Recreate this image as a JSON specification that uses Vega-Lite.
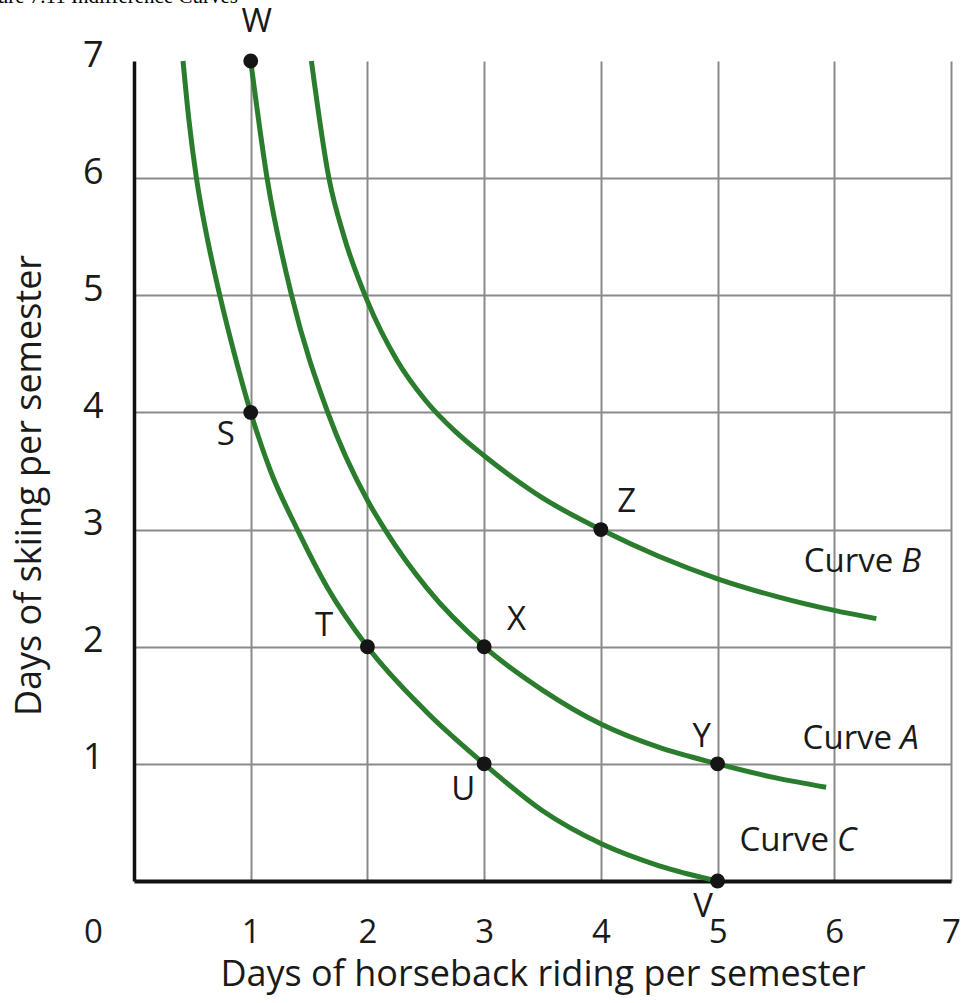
{
  "$schema": "https://vega.github.io/schema/vega-lite/v6.json",
  "width": 817,
  "height": 820,
  "autosize": {"type": "none"},
  "padding": {"left": 134, "top": 61, "right": 13, "bottom": 122},
  "background": "white",
  "title": {
    "text": "Figure 7.11 Indifference Curves",
    "anchor": "start",
    "frame": "group",
    "align": "right",
    "dx": 104,
    "dy": 18,
    "baseline": "alphabetic",
    "font": "Liberation Serif",
    "fontSize": 21,
    "fontWeight": "normal",
    "color": "#000000",
    "offset": 0
  },
  "config": {
    "view": {"stroke": null},
    "font": "Open Sans"
  },
  "datasets": {
    "curves": [
      {"curve": "C", "x": 0.42, "y": 7.0},
      {"curve": "C", "x": 0.47, "y": 6.5},
      {"curve": "C", "x": 0.535, "y": 6.0},
      {"curve": "C", "x": 0.625, "y": 5.5},
      {"curve": "C", "x": 0.735, "y": 5.0},
      {"curve": "C", "x": 0.86, "y": 4.5},
      {"curve": "C", "x": 1.0, "y": 4.0},
      {"curve": "C", "x": 1.17, "y": 3.5},
      {"curve": "C", "x": 1.4, "y": 3.0},
      {"curve": "C", "x": 1.66, "y": 2.5},
      {"curve": "C", "x": 2.0, "y": 2.0},
      {"curve": "C", "x": 2.5, "y": 1.45},
      {"curve": "C", "x": 3.0, "y": 1.0},
      {"curve": "C", "x": 3.5, "y": 0.6},
      {"curve": "C", "x": 4.0, "y": 0.32},
      {"curve": "C", "x": 4.5, "y": 0.13},
      {"curve": "C", "x": 5.0, "y": 0.0},
      {"curve": "A", "x": 1.0, "y": 7.0},
      {"curve": "A", "x": 1.14, "y": 6.0},
      {"curve": "A", "x": 1.35, "y": 5.0},
      {"curve": "A", "x": 1.66, "y": 4.0},
      {"curve": "A", "x": 2.0, "y": 3.25},
      {"curve": "A", "x": 2.15, "y": 3.0},
      {"curve": "A", "x": 2.51, "y": 2.5},
      {"curve": "A", "x": 3.0, "y": 2.0},
      {"curve": "A", "x": 3.5, "y": 1.63},
      {"curve": "A", "x": 4.0, "y": 1.34},
      {"curve": "A", "x": 4.5, "y": 1.14},
      {"curve": "A", "x": 5.0, "y": 1.0},
      {"curve": "A", "x": 5.5, "y": 0.88},
      {"curve": "A", "x": 5.93, "y": 0.8},
      {"curve": "B", "x": 1.52, "y": 7.0},
      {"curve": "B", "x": 1.67, "y": 6.0},
      {"curve": "B", "x": 1.8, "y": 5.5},
      {"curve": "B", "x": 2.0, "y": 4.95},
      {"curve": "B", "x": 2.25, "y": 4.45},
      {"curve": "B", "x": 2.5, "y": 4.1},
      {"curve": "B", "x": 2.75, "y": 3.84},
      {"curve": "B", "x": 3.0, "y": 3.63},
      {"curve": "B", "x": 3.25, "y": 3.44},
      {"curve": "B", "x": 3.5, "y": 3.27},
      {"curve": "B", "x": 4.0, "y": 3.0},
      {"curve": "B", "x": 4.5, "y": 2.77},
      {"curve": "B", "x": 5.0, "y": 2.58},
      {"curve": "B", "x": 5.5, "y": 2.43},
      {"curve": "B", "x": 6.0, "y": 2.31},
      {"curve": "B", "x": 6.36, "y": 2.24}
    ],
    "points": [
      {"name": "W", "x": 1, "y": 7, "lx": 1.051, "ly": 7.33},
      {"name": "S", "x": 1, "y": 4, "lx": 0.786, "ly": 3.809},
      {"name": "T", "x": 2, "y": 2, "lx": 1.628, "ly": 2.179},
      {"name": "X", "x": 3, "y": 2, "lx": 3.278, "ly": 2.229},
      {"name": "U", "x": 3, "y": 1, "lx": 2.822, "ly": 0.777},
      {"name": "Z", "x": 4, "y": 3, "lx": 4.222, "ly": 3.232},
      {"name": "Y", "x": 5, "y": 1, "lx": 4.865, "ly": 1.232},
      {"name": "V", "x": 5, "y": 0, "lx": 4.876, "ly": -0.22}
    ],
    "curveLabels": [
      {"word": "Curve", "letter": "B", "lx": 6.54, "ly": 2.72},
      {"word": "Curve", "letter": "A", "lx": 6.53, "ly": 1.215},
      {"word": "Curve", "letter": "C", "lx": 5.99, "ly": 0.34}
    ]
  },
  "layer": [
    {
      "data": {"name": "curves"},
      "mark": {"type": "line", "interpolate": "monotone", "strokeWidth": 5, "color": "#2b7d2e", "strokeCap": "butt"},
      "encoding": {
        "x": {
          "field": "x",
          "type": "quantitative",
          "title": "Days of horseback riding per semester",
          "scale": {"domain": [0, 7], "nice": false, "zero": false},
          "axis": {
            "values": [0, 1, 2, 3, 4, 5, 6, 7],
            "format": "d",
            "titleFont": "Open Sans",
            "titleFontSize": 36,
            "titleFontWeight": "normal",
            "titleColor": "#1a1a1a",
            "titleBaseline": "alphabetic",
            "titleY": 104,
            "labelFont": "Open Sans",
            "labelFontSize": 33,
            "labelColor": "#1a1a1a",
            "labelBaseline": "alphabetic",
            "labelPadding": 61,
            "labelFlush": false,
            "labelOverlap": false,
            "labelOffset": {"condition": {"test": "datum.value === 0", "value": -41}, "value": 0},
            "ticks": false,
            "tickSize": 0,
            "domainColor": "#111111",
            "domainWidth": 4,
            "grid": true,
            "gridColor": "#8a8a8a",
            "gridWidth": 2,
            "gridOpacity": {"condition": {"test": "datum.value === 0", "value": 0}, "value": 1}
          }
        },
        "y": {
          "field": "y",
          "type": "quantitative",
          "title": "Days of skiing per semester",
          "scale": {"domain": [0, 7], "nice": false, "zero": false},
          "axis": {
            "values": [1, 2, 3, 4, 5, 6, 7],
            "format": "d",
            "titleFont": "Open Sans",
            "titleFontSize": 36,
            "titleFontWeight": "normal",
            "titleColor": "#1a1a1a",
            "titleAngle": -90,
            "titleAlign": "center",
            "titleBaseline": "alphabetic",
            "titleX": -94,
            "titleY": 424,
            "labelFont": "Open Sans",
            "labelFontSize": 36,
            "labelColor": "#1a1a1a",
            "labelAlign": "right",
            "labelBaseline": "middle",
            "labelPadding": 31,
            "labelOffset": -6,
            "labelFlush": false,
            "labelOverlap": false,
            "ticks": false,
            "tickSize": 0,
            "domainColor": "#111111",
            "domainWidth": 3.5,
            "grid": true,
            "gridColor": "#8a8a8a",
            "gridWidth": 2,
            "gridOpacity": {"condition": {"test": "datum.value === 7", "value": 0}, "value": 1}
          }
        },
        "detail": {"field": "curve", "type": "nominal"}
      }
    },
    {
      "data": {"name": "points"},
      "mark": {"type": "circle", "size": 220, "color": "#151515", "opacity": 1},
      "encoding": {
        "x": {"field": "x", "type": "quantitative", "title": "Days of horseback riding per semester"},
        "y": {"field": "y", "type": "quantitative", "title": "Days of skiing per semester"}
      }
    },
    {
      "data": {"name": "points"},
      "mark": {"type": "text", "font": "Open Sans", "fontSize": 33, "color": "#1a1a1a", "align": "center", "baseline": "middle"},
      "encoding": {
        "x": {"field": "lx", "type": "quantitative", "title": "Days of horseback riding per semester"},
        "y": {"field": "ly", "type": "quantitative", "title": "Days of skiing per semester"},
        "text": {"field": "name"}
      }
    },
    {
      "data": {"name": "curveLabels"},
      "mark": {"type": "text", "font": "Open Sans", "fontSize": 33, "color": "#1a1a1a", "align": "right", "baseline": "middle", "dx": -4},
      "encoding": {
        "x": {"field": "lx", "type": "quantitative", "title": "Days of horseback riding per semester"},
        "y": {"field": "ly", "type": "quantitative", "title": "Days of skiing per semester"},
        "text": {"field": "word"}
      }
    },
    {
      "data": {"name": "curveLabels"},
      "mark": {"type": "text", "font": "Open Sans", "fontSize": 33, "fontStyle": "italic", "color": "#1a1a1a", "align": "left", "baseline": "middle", "dx": 4},
      "encoding": {
        "x": {"field": "lx", "type": "quantitative", "title": "Days of horseback riding per semester"},
        "y": {"field": "ly", "type": "quantitative", "title": "Days of skiing per semester"},
        "text": {"field": "letter"}
      }
    }
  ]
}
